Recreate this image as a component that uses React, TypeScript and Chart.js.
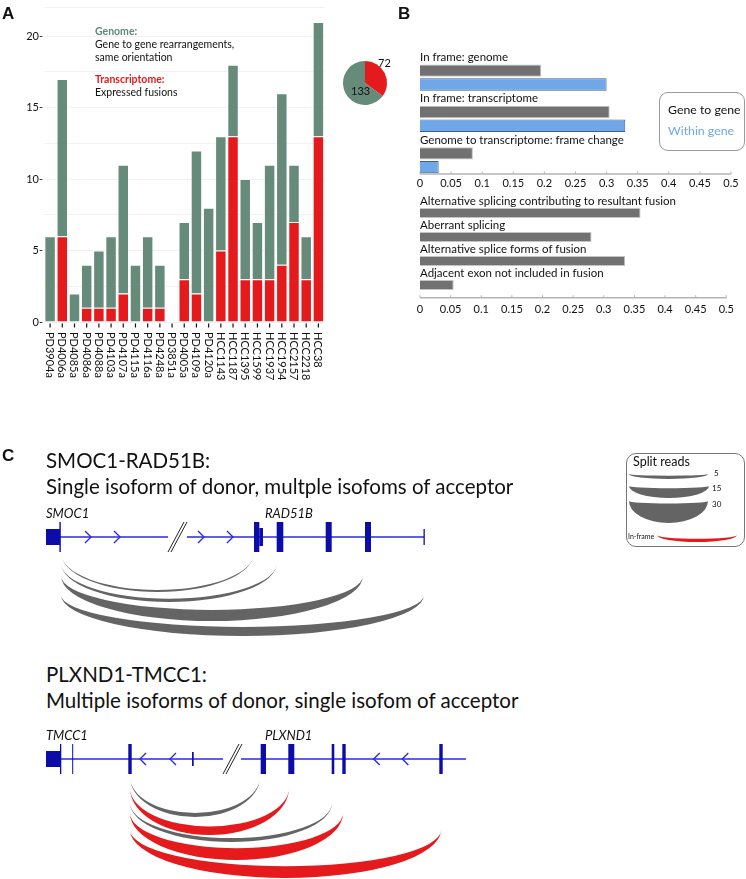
import React, { useEffect, useRef } from "react";
import { Chart, registerables } from "chart.js";
Chart.register(...registerables);

const FONT = "Lato, 'Noto Sans', sans-serif";
const GREEN = "#668b7b";
const RED = "#e41a1c";
const B_GREY = "#717171";
const B_BLUE = "#6fa7e8";
const ARC_GREY = "#646464";
const EXON_BLUE = "#0c0ca8";
const LINE_BLUE = "#2a2ae8";

// ---------------- Panel A data ----------------
const sampleLabels = ["PD3904a", "PD4006a", "PD4085a", "PD4086a", "PD4088a", "PD4103a", "PD4107a", "PD4115a", "PD4116a", "PD4248a", "PD3851a", "PD4005a", "PD4109a", "PD4120a", "HCC1143", "HCC1187", "HCC1395", "HCC1599", "HCC1937", "HCC1954", "HCC2157", "HCC2218", "HCC38"];
const transcriptomeCounts = [0, 6, 0, 1, 1, 1, 2, 0, 1, 1, 0, 3, 2, 0, 5, 13, 3, 3, 3, 4, 7, 3, 13];
const genomeOnlyCounts = [6, 11, 2, 3, 4, 5, 9, 4, 5, 3, 0, 4, 10, 8, 8, 5, 7, 4, 8, 12, 4, 3, 8];
const pieCounts = [72, 133];
const yMaxA = 22;
const yStepA = 2.5;

// ---------------- Panel B data ----------------
const seriesNamesB = ["Gene to gene", "Within gene"];
const frameCategories = ["In frame: genome", "In frame: transcriptome", "Genome to transcriptome: frame change"];
const geneToGeneFractions = [0.195, 0.305, 0.085];
const withinGeneFractions = [0.3, 0.33, 0.03];
const splicingCategories = ["Alternative splicing contributing to resultant fusion", "Aberrant splicing", "Alternative splice forms of fusion", "Adjacent exon not included in fusion"];
const splicingFractions = [0.36, 0.28, 0.335, 0.055];
const xMaxB = 0.5;
const xStepB = 0.05;

// ---------------- Panel C data ----------------
// positions along the drawn gene track (track units), depths below the track
const smocIntrons = [[14, 122], [141, 378]];
const smocBreak = [122, 141];
const smocExons = [[0, 14, 8], [13.4, 14.8, 15], [208, 213.3, 15], [213.3, 217, 9], [230.7, 237.3, 15], [279.7, 285.7, 15], [319, 325, 15], [377.5, 378.8, 8]];
const smocChevrons = [42, 71, 155, 184];
const smocArcStart = [15, 15, 15, 15];
const smocArcEnd = [208, 231, 317, 378];
const smocArcOffset = [16, 26, 39, 58];
const smocArcDepth = [39, 39, 45, 41];
const smocArcReads = [3, 5, 17, 14];
const smocArcInFrame = [false, false, false, false];

const plxIntrons = [[14.5, 177], [195, 420]];
const plxBreak = [177, 196];
const plxExons = [[0, 14.5, 8], [14, 15.3, 15], [26.2, 27.2, 15], [82.3, 85.7, 15], [146, 147.7, 7], [214.7, 220, 15], [242.3, 248.3, 15], [285.7, 288.3, 15], [296.3, 299.7, 15], [393.3, 396.7, 15]];
const plxChevrons = [97, 127, 330.7, 359.3];
const plxArcStart = [84, 84, 84, 84, 84];
const plxArcEnd = [214, 243, 286, 297, 395];
const plxArcOffset = [18, 29, 44, 54, 71];
const plxArcDepth = [40, 47, 39, 47, 48];
const plxArcReads = [6, 13, 6, 18, 18];
const plxArcInFrame = [false, true, false, true, true];

const legendReads = [5, 15, 30, 5];
const legendInFrame = [false, false, false, true];
const legendArcStart = [583, 583, 583, 611];
const legendArcEnd = [662, 663, 662, 691];
const legendArcOffset = [-63, -51, -36, -2];
const legendArcDepth = [5, 12, 22, 7];
const PX_PER_READ = 0.65;

// ---------------- helpers ----------------
function ChartCanvas({ left, top, width, height, make }: any) {
  const ref = useRef<HTMLCanvasElement>(null);
  useEffect(() => {
    const chart = new Chart(ref.current as HTMLCanvasElement, make());
    return () => chart.destroy();
  }, []);
  return (
    <canvas
      ref={ref}
      width={width}
      height={height}
      style={{ position: "absolute", left, top, width, height }}
    />
  );
}

const T = ({ x, y, size, bold, italic, color, family, children }: any) => (
  <div
    style={{
      position: "absolute",
      left: x,
      top: y,
      transform: "translateY(-50%)",
      fontSize: size,
      lineHeight: 1,
      fontWeight: bold ? 700 : 400,
      fontStyle: italic ? "italic" : "normal",
      color: color || "#111",
      fontFamily: family || FONT,
      whiteSpace: "nowrap",
    }}
  >
    {children}
  </div>
);

const baseOptions = {
  responsive: false,
  animation: false,
  devicePixelRatio: 1,
  events: [],
};

// ---------------- Panel A ----------------
const verticalLabelsPlugin = {
  id: "verticalLabels",
  afterDraw(chart: any) {
    const { ctx, chartArea } = chart;
    const x = chart.scales.x;
    ctx.save();
    ctx.fillStyle = "#111";
    ctx.font = `11px ${FONT}`;
    chart.data.labels.forEach((lab: string, i: number) => {
      const px = x.getPixelForTick(i);
      ctx.fillRect(px - 0.6, chartArea.bottom + 1.5, 1.2, 4);
      ctx.save();
      ctx.translate(px, chartArea.bottom + 10);
      ctx.rotate(Math.PI / 2);
      ctx.textAlign = "left";
      ctx.textBaseline = "middle";
      ctx.fillText(lab, 0, 0.5);
      ctx.restore();
    });
    ctx.restore();
  },
};

const makeBarA = () => ({
  type: "bar",
  data: {
    labels: sampleLabels,
    datasets: [
      { label: "Transcriptome", data: transcriptomeCounts, backgroundColor: RED, borderColor: "rgba(255,255,255,0.45)", borderWidth: 1, categoryPercentage: 1, barPercentage: 0.94 },
      { label: "Genome", data: genomeOnlyCounts, backgroundColor: GREEN, borderColor: "rgba(255,255,255,0.45)", borderWidth: 1, categoryPercentage: 1, barPercentage: 0.94 },
    ],
  },
  options: {
    ...baseOptions,
    layout: { padding: { top: 4, right: 5.5, left: 0, bottom: 0 } },
    plugins: { legend: { display: false }, tooltip: { enabled: false } },
    scales: {
      x: { stacked: true, grid: { display: false }, border: { display: false }, ticks: { display: false }, afterFit: (s: any) => { s.height = 68; } },
      y: {
        stacked: true, min: 0, max: yMaxA,
        border: { display: false },
        grid: { color: "#f1f1f1", drawTicks: false },
        ticks: { stepSize: yStepA, padding: 1, color: "#111", font: { family: FONT, size: 11 }, callback: (v: number) => (v % 5 === 0 ? `${v}-` : "") },
        afterFit: (s: any) => { s.width = 44; },
      },
    },
  },
  plugins: [verticalLabelsPlugin],
});

const makePie = () => ({
  type: "pie",
  data: { labels: ["Transcriptome", "Genome only"], datasets: [{ data: pieCounts, backgroundColor: [RED, GREEN], borderWidth: 0 }] },
  options: {
    ...baseOptions,
    layout: { padding: { top: 11, bottom: 7, left: 5, right: 11 } },
    plugins: { legend: { display: false }, tooltip: { enabled: false } },
  },
});

// ---------------- Panel B ----------------
const bPanelPlugin = {
  id: "bPanel",
  afterDraw(chart: any, _a: any, opts: any) {
    const { ctx, chartArea } = chart;
    const x = chart.scales.x;
    const y = chart.scales.y;
    const labels = chart.data.labels;
    const nSlots = chart.data.datasets.length;
    const band = y.getPixelForValue(1) - y.getPixelForValue(0);
    ctx.save();
    ctx.font = `11.5px ${FONT}`;
    ctx.fillStyle = "#111";
    ctx.textBaseline = "middle";
    ctx.textAlign = "left";
    labels.forEach((lab: string, i: number) => {
      const cy = y.getPixelForValue(i) - band / 2 + band / (2 * nSlots);
      ctx.fillText(lab, x.getPixelForValue(0), cy + 0.5);
    });
    const ay = chartArea.bottom + (opts.axisGap || 0);
    ctx.strokeStyle = "#b4b4b4";
    ctx.lineWidth = 1.5;
    ctx.beginPath();
    ctx.moveTo(x.getPixelForValue(x.min), ay);
    ctx.lineTo(x.getPixelForValue(x.max), ay);
    ctx.stroke();
    ctx.lineWidth = 1;
    x.ticks.forEach((t: any) => {
      const px = x.getPixelForValue(t.value);
      ctx.beginPath();
      ctx.moveTo(px, ay - 2.5);
      ctx.lineTo(px, ay);
      ctx.stroke();
    });
    ctx.restore();
  },
};

const bScaleX = (pad: number, h: number) => ({
  min: 0, max: xMaxB,
  grid: { display: false, drawTicks: false },
  border: { display: false },
  ticks: {
    stepSize: xStepB, padding: pad, color: "#111", font: { family: FONT, size: 11 }, maxRotation: 0, autoSkip: false,
    callback: (v: number) => String(Number(v.toFixed(2))),
  },
  afterFit: (s: any) => { s.height = h; },
});

const makeBarB1 = () => ({
  type: "bar",
  data: {
    labels: frameCategories,
    datasets: [
      { label: "", data: frameCategories.map(() => null) },
      { label: seriesNamesB[0], data: geneToGeneFractions, backgroundColor: B_GREY, borderColor: "#c4c4c4", borderWidth: 1 },
      { label: seriesNamesB[1], data: withinGeneFractions, backgroundColor: B_BLUE, borderColor: "#3f5f8c", borderWidth: 1 },
    ],
  },
  options: {
    ...baseOptions,
    indexAxis: "y",
    datasets: { bar: { categoryPercentage: 1, barPercentage: 0.9 } },
    layout: { padding: { top: 10, left: 30, right: 15, bottom: 0 } },
    plugins: { legend: { display: false }, tooltip: { enabled: false }, bPanel: { axisGap: 0 } },
    scales: { y: { display: false }, x: bScaleX(3, 20) },
  },
  plugins: [bPanelPlugin],
});

const makeBarB2 = () => ({
  type: "bar",
  data: {
    labels: splicingCategories,
    datasets: [
      { label: "", data: splicingCategories.map(() => null) },
      { label: "Splicing", data: splicingFractions, backgroundColor: B_GREY, borderColor: "#c4c4c4", borderWidth: 1 },
    ],
  },
  options: {
    ...baseOptions,
    indexAxis: "y",
    datasets: { bar: { categoryPercentage: 1, barPercentage: 0.85 } },
    layout: { padding: { top: 10, left: 30, right: 15, bottom: 0 } },
    plugins: { legend: { display: false }, tooltip: { enabled: false }, bPanel: { axisGap: 6.7 } },
    scales: { y: { display: false }, x: bScaleX(12, 29) },
  },
  plugins: [bPanelPlugin],
});

// ---------------- Panel C ----------------
function drawCrescent(ctx: any, x: any, y: any, x0: number, x1: number, top: number, depth: number, thick: number, color: string) {
  const p0 = x.getPixelForValue(x0);
  const p1 = x.getPixelForValue(x1);
  const py = y.getPixelForValue(top);
  const outer = y.getPixelForValue(top + depth) - py;
  const inner = Math.max(0.2, y.getPixelForValue(top + depth - thick) - py);
  const cx = (p0 + p1) / 2;
  const rx = (p1 - p0) / 2;
  ctx.beginPath();
  ctx.ellipse(cx, py, rx, outer, 0, 0, Math.PI, false);
  ctx.ellipse(cx, py, rx, inner, 0, Math.PI, 0, true);
  ctx.closePath();
  ctx.fillStyle = color;
  ctx.fill();
}

function makeGene(g: any, yMin: number, yMax: number) {
  const genePlugin = {
    id: "gene",
    afterDatasetsDraw(chart: any) {
      const { ctx } = chart;
      const x = chart.scales.x;
      const y = chart.scales.y;
      const X = (v: number) => x.getPixelForValue(v);
      const Y = (v: number) => y.getPixelForValue(v);
      ctx.save();
      ctx.strokeStyle = LINE_BLUE;
      ctx.lineWidth = 1.4;
      g.introns.forEach((s: number[]) => {
        ctx.beginPath();
        ctx.moveTo(X(s[0]), Y(0));
        ctx.lineTo(X(s[1]), Y(0));
        ctx.stroke();
      });
      g.chevrons.forEach((c: number) => {
        ctx.beginPath();
        ctx.moveTo(X(c - g.dir * 3), Y(-6));
        ctx.lineTo(X(c + g.dir * 3), Y(0));
        ctx.lineTo(X(c - g.dir * 3), Y(6));
        ctx.stroke();
      });
      ctx.strokeStyle = "#222";
      ctx.lineWidth = 1;
      [0, 3].forEach((o) => {
        ctx.beginPath();
        ctx.moveTo(X(g.brk[0] + o), Y(15));
        ctx.lineTo(X(g.brk[1] - 3 + o), Y(-15));
        ctx.stroke();
      });
      ctx.fillStyle = EXON_BLUE;
      g.exons.forEach((e: number[]) => {
        ctx.fillRect(X(e[0]), Y(-e[2]), X(e[1]) - X(e[0]), Y(e[2]) - Y(-e[2]));
      });
      g.arcStart.forEach((s: number, i: number) => {
        drawCrescent(ctx, x, y, s, g.arcEnd[i], g.arcOffset[i], g.arcDepth[i], g.arcReads[i] * PX_PER_READ, g.arcInFrame[i] ? RED : ARC_GREY);
      });
      ctx.restore();
    },
  };
  return () => ({
    type: "scatter",
    data: { datasets: [] },
    options: {
      ...baseOptions,
      layout: { padding: 0 },
      plugins: { legend: { display: false }, tooltip: { enabled: false } },
      scales: {
        x: { type: "linear", min: -46, max: 700, display: false },
        y: { type: "linear", min: yMin, max: yMax, reverse: true, display: false },
      },
    },
    plugins: [genePlugin],
  });
}

const smocGene = {
  introns: smocIntrons, brk: smocBreak, exons: smocExons, chevrons: smocChevrons, dir: 1,
  arcStart: [...smocArcStart, ...legendArcStart], arcEnd: [...smocArcEnd, ...legendArcEnd],
  arcOffset: [...smocArcOffset, ...legendArcOffset], arcDepth: [...smocArcDepth, ...legendArcDepth],
  arcReads: [...smocArcReads, ...legendReads], arcInFrame: [...smocArcInFrame, ...legendInFrame],
};
const plxGene = {
  introns: plxIntrons, brk: plxBreak, exons: plxExons, chevrons: plxChevrons, dir: -1,
  arcStart: plxArcStart, arcEnd: plxArcEnd, arcOffset: plxArcOffset, arcDepth: plxArcDepth,
  arcReads: plxArcReads, arcInFrame: plxArcInFrame,
};

const PANEL_FONT = "'Liberation Sans', Arial, sans-serif";

export default function App() {
  return (
    <div style={{ position: "absolute", left: 0, top: 0, width: 746, height: 879, overflow: "hidden", background: "#fff", fontFamily: FONT }}>
      <ChartCanvas left={0} top={0} width={330} height={390} make={makeBarA} />
      <ChartCanvas left={338} top={50} width={60} height={62} make={makePie} />
      <ChartCanvas left={390} top={40} width={356} height={154} make={makeBarB1} />
      <ChartCanvas left={390} top={185} width={356} height={135} make={makeBarB2} />
      <ChartCanvas left={0} top={440} width={746} height={205} make={makeGene(smocGene, -97, 108)} />
      <ChartCanvas left={0} top={725} width={746} height={154} make={makeGene(plxGene, -34, 120)} />

      <T x={2} y={13} size={17} bold family={PANEL_FONT}>A</T>
      <T x={398} y={13} size={17} bold family={PANEL_FONT}>B</T>
      <T x={2} y={455} size={17} bold family={PANEL_FONT}>C</T>

      <T x={95} y={31} size={10.5} bold color="#5f8a78">Genome:</T>
      <T x={95} y={44} size={10.5}>Gene to gene rearrangements,</T>
      <T x={95} y={57} size={10.5}>same orientation</T>
      <T x={95} y={79} size={10.5} bold color={RED}>Transcriptome:</T>
      <T x={95} y={92} size={10.5}>Expressed fusions</T>
      <T x={378} y={62} size={11}>{pieCounts[0]}</T>
      <T x={351} y={90} size={11}>{pieCounts[1]}</T>

      <div style={{ position: "absolute", left: 659, top: 92, width: 86, height: 59, border: "1px solid #999", borderRadius: 9, boxSizing: "border-box" }} />
      <T x={668} y={110} size={12.3}>{seriesNamesB[0]}</T>
      <T x={668} y={131} size={12.3} color={B_BLUE}>{seriesNamesB[1]}</T>

      <T x={46} y={460} size={20.5}>SMOC1-RAD51B:</T>
      <T x={46} y={486} size={20.5}>Single isoform of donor, multple isofoms of acceptor</T>
      <T x={46} y={513} size={13} italic>SMOC1</T>
      <T x={265} y={513} size={13} italic>RAD51B</T>
      <T x={46} y={674} size={20.5}>PLXND1-TMCC1:</T>
      <T x={46} y={700} size={20.5}>Multiple isoforms of donor, single isofom of acceptor</T>
      <T x={46} y={735} size={13} italic>TMCC1</T>
      <T x={265} y={735} size={13} italic>PLXND1</T>

      <div style={{ position: "absolute", left: 626, top: 453, width: 119, height: 94, border: "1px solid #777", borderRadius: 10, boxSizing: "border-box" }} />
      <T x={633} y={462} size={12.5}>Split reads</T>
      <T x={714} y={473} size={8}>{legendReads[0]}</T>
      <T x={712} y={488} size={8}>{legendReads[1]}</T>
      <T x={712} y={504} size={8}>{legendReads[2]}</T>
      <T x={628} y={536} size={7}>In-frame</T>
    </div>
  );
}
